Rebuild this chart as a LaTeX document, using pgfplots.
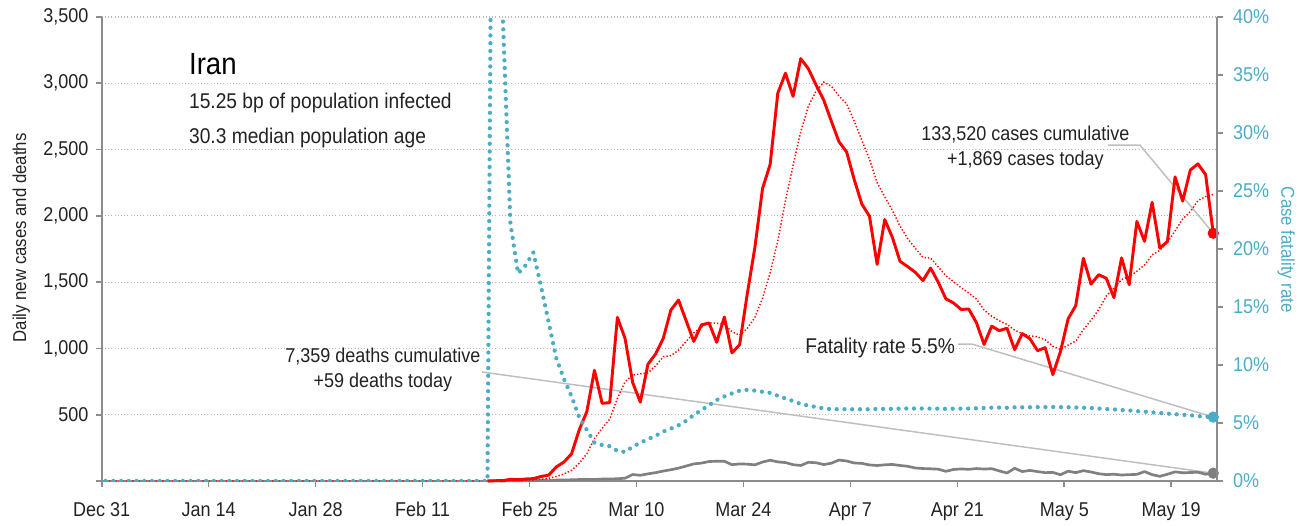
\documentclass[border=0pt]{standalone}
\usepackage{pgfplots}
\pgfplotsset{compat=1.18}
\usepackage{pgfplotstable}
\usepackage{fontspec}
\setmainfont{Liberation Sans}[FakeStretch=0.9]
\definecolor{cred}{RGB}{255,0,0}
\definecolor{cblue}{RGB}{75,172,198}
\definecolor{cgrey}{RGB}{128,128,128}
\definecolor{caxis}{RGB}{140,140,140}
\definecolor{cgrid}{RGB}{185,185,185}
\definecolor{cconn}{RGB}{190,190,190}
\definecolor{ctext}{RGB}{34,34,34}
\pgfplotsset{/pgf/number format/assume math mode=true}

% daily new cases (day index: Dec 31 = 0)
\pgfplotstableread{
d c
50 0
51 2
52 3
53 13
54 10
55 15
56 18
57 34
58 44
59 106
60 143
61 205
62 385
63 523
64 835
65 586
66 591
67 1234
68 1076
69 743
70 595
71 881
72 958
73 1075
74 1289
75 1365
76 1209
77 1053
78 1178
79 1192
80 1046
81 1237
82 966
83 1028
84 1411
85 1762
86 2206
87 2389
88 2926
89 3076
90 2901
91 3186
92 3110
93 2988
94 2875
95 2715
96 2560
97 2483
98 2274
99 2089
100 1997
101 1634
102 1972
103 1837
104 1657
105 1617
106 1574
107 1512
108 1606
109 1499
110 1374
111 1343
112 1294
113 1297
114 1194
115 1030
116 1168
117 1134
118 1153
119 991
120 1112
121 1073
122 983
123 1006
124 802
125 976
126 1223
127 1323
128 1680
129 1485
130 1556
131 1529
132 1383
133 1683
134 1481
135 1958
136 1808
137 2102
138 1757
139 1806
140 2294
141 2111
142 2346
143 2392
144 2311
145 1869
}\cases

% 7-day average of cases
\pgfplotstableread{
d m
0 0
50 0
51 0.3
52 0.7
53 2.6
54 4.0
55 6.1
56 8.7
57 13.6
58 19.6
59 34.3
60 52.9
61 80.7
62 133.6
63 205.7
64 320.1
65 397.6
66 466.9
67 622.7
68 747.1
69 798.3
70 808.6
71 815.1
72 868.3
73 937.4
74 945.3
75 986.6
76 1053.1
77 1118.6
78 1161.0
79 1194.4
80 1190.3
81 1182.9
82 1125.9
83 1100.0
84 1151.1
85 1234.6
86 1379.4
87 1571.3
88 1812.6
89 2114.0
90 2381.6
91 2635.1
92 2827.7
93 2939.4
94 3008.9
95 2978.7
96 2905.0
97 2845.3
98 2715.0
99 2569.1
100 2427.6
101 2250.3
102 2144.1
103 2040.9
104 1922.9
105 1829.0
106 1755.4
107 1686.1
108 1682.1
109 1614.6
110 1548.4
111 1503.6
112 1457.4
113 1417.9
114 1372.4
115 1290.1
116 1242.9
117 1208.6
118 1181.4
119 1138.1
120 1111.7
121 1094.4
122 1087.7
123 1064.6
124 1017.1
125 991.9
126 1025.0
127 1055.1
128 1141.9
129 1213.6
130 1292.1
131 1396.0
132 1454.1
133 1519.9
134 1542.4
135 1582.1
136 1628.3
137 1706.3
138 1738.9
139 1799.3
140 1886.6
141 1976.6
142 2032.0
143 2115.4
144 2145.3
145 2161.3
}\avg

% daily deaths
\pgfplotstableread{
d v
50 0
51 2
52 0
53 2
54 1
55 3
56 4
57 4
58 3
59 7
60 8
61 9
62 11
63 12
64 11
65 15
66 15
67 17
68 21
69 49
70 43
71 54
72 63
73 75
74 85
75 97
76 113
77 129
78 135
79 147
80 149
81 149
82 123
83 129
84 127
85 122
86 143
87 157
88 144
89 139
90 123
91 117
92 141
93 138
94 124
95 134
96 158
97 151
98 136
99 133
100 121
101 117
102 122
103 125
104 117
105 111
106 98
107 94
108 92
109 89
110 73
111 87
112 91
113 88
114 94
115 90
116 93
117 76
118 60
119 96
120 71
121 80
122 71
123 63
124 65
125 47
126 74
127 63
128 78
129 68
130 55
131 48
132 51
133 45
134 48
135 50
136 71
137 48
138 35
139 51
140 69
141 62
142 64
143 66
144 51
145 59
}\deaths

% case fatality rate (%)
\pgfplotstableread{
d r
0 0
50 0
51 100
52 40.0
53 22.2
54 17.9
55 18.6
56 19.7
57 16.8
58 13.7
59 10.6
60 8.8
61 7.3
62 5.5
63 4.4
64 3.3
65 3.1
66 3.0
67 2.6
68 2.5
69 2.95
70 3.3
71 3.6
72 3.9
73 4.26
74 4.52
75 4.8
76 5.19
77 5.69
78 6.11
79 6.54
80 6.98
81 7.29
82 7.55
83 7.79
84 7.86
85 7.79
86 7.69
87 7.60
88 7.35
89 7.11
90 6.89
91 6.64
92 6.50
93 6.38
94 6.26
95 6.19
96 6.19
97 6.19
98 6.18
99 6.19
100 6.18
101 6.21
102 6.21
103 6.22
104 6.24
105 6.25
106 6.25
107 6.25
108 6.24
109 6.24
110 6.22
111 6.23
112 6.24
113 6.25
114 6.27
115 6.30
116 6.32
117 6.33
118 6.31
119 6.35
120 6.35
121 6.36
122 6.37
123 6.37
124 6.38
125 6.37
126 6.36
127 6.34
128 6.31
129 6.29
130 6.25
131 6.20
132 6.17
133 6.12
134 6.08
135 6.02
136 5.98
137 5.92
138 5.86
139 5.81
140 5.76
141 5.71
142 5.66
143 5.60
144 5.54
145 5.51
}\cfr

\begin{document}
\begin{tikzpicture}
\useasboundingbox (-76.3pt,-33pt) rectangle (906.2pt,360.75pt);
\begin{axis}[
  at={(0,0)}, anchor=south west, scale only axis,
  width=836.5pt, height=348pt,
  xmin=-0.5, xmax=145.5, ymin=0, ymax=3500,
  clip=false,
  axis x line*=bottom, axis y line*=left,
  axis line style={caxis, line width=1.5pt},
  tick align=outside, major tick length=4.5pt,
  tick style={caxis, line width=1.2pt},
  xtick={-0.5,13.5,27.5,41.5,55.5,69.5,83.5,97.5,111.5,125.5,139.5},
  xticklabels={Dec 31,Jan 14,Jan 28,Feb 11,Feb 25,Mar 10,Mar 24,Apr 7,Apr 21,May 5,May 19},
  ytick={0,500,1000,1500,2000,2500,3000,3500},
  yticklabels={{},500,{1,000},{1,500},{2,000},{2,500},{3,000},{3,500}},
  ymajorgrids,
  grid style={cgrid, line width=0.8pt, dash pattern=on 0.8pt off 1.6pt},
  tick label style={font=\fontsize{15}{18}\selectfont, text=ctext},
  xticklabel style={yshift=-8pt},
  yticklabel style={xshift=-2pt},
  ylabel={Daily new cases and deaths},
  ylabel style={at={(axis description cs:-0.072,0.524)}, anchor=center,
    font=\fontsize{14}{17}\selectfont, text=ctext},
]
% connectors
\draw[cconn, line width=1.1pt] (axis cs:131.2,2534) -- (axis cs:135.4,2534) -- (axis cs:145,1869);
\draw[cconn, line width=1.1pt] (axis cs:111.6,1033) -- (axis cs:113.4,1033) -- (axis cs:145,482);
\draw[cconn, line width=1.1pt] (axis cs:49.3,822) -- (axis cs:145,59);
% series
\addplot[cgrey, line width=2pt, line join=round] table[x=d, y=v] {\deaths};
\addplot[cred, line width=1.1pt, dash pattern=on 1pt off 1.5pt] table[x=d, y=m] {\avg};
\addplot[cred, line width=2.2pt, line join=round] table[x=d, y=c] {\cases};
\addplot[only marks, mark=*, mark size=4pt, cred] coordinates {(145,1869)};
\addplot[only marks, mark=*, mark size=4pt, cgrey] coordinates {(145,59)};
% texts
\node[anchor=west, inner sep=0pt, font=\fontsize{23}{27}\selectfont, text=black] at (axis cs:10.9,3145) {Iran};
\node[anchor=west, inner sep=0pt, font=\fontsize{16}{19}\selectfont, text=ctext] at (axis cs:10.9,2851) {15.25 bp of population infected};
\node[anchor=west, inner sep=0pt, font=\fontsize{16}{19}\selectfont, text=ctext] at (axis cs:10.9,2587) {30.3 median population age};
\node[align=center, inner sep=0pt, font=\fontsize{15}{18.75}\selectfont, text=ctext] at (axis cs:120.4,2512) {133,520 cases cumulative\\+1,869 cases today};
\node[inner sep=0pt, font=\fontsize{16}{19}\selectfont, text=ctext] at (axis cs:101.4,1003) {Fatality rate 5.5\%};
\node[align=center, inner sep=0pt, font=\fontsize{15}{18.75}\selectfont, text=ctext] at (axis cs:36.3,837) {7,359 deaths cumulative\\+59 deaths today};
\end{axis}
\begin{axis}[
  at={(0,0)}, anchor=south west, scale only axis,
  width=836.5pt, height=348pt,
  xmin=-0.5, xmax=145.5, ymin=0, ymax=40,
  axis x line=none, axis y line*=right,
  axis line style={caxis, line width=1.5pt},
  tick align=outside, major tick length=4.5pt,
  tick style={caxis, line width=1.2pt},
  ytick={0,5,10,15,20,25,30,35,40},
  yticklabel={\pgfmathprintnumber{\tick}\%},
  tick label style={font=\fontsize{15}{18}\selectfont, text=cblue},
  yticklabel style={xshift=4pt},
  ylabel={Case fatality rate},
  ylabel style={at={(axis description cs:1.062,0.498)}, anchor=center, rotate=180,
    font=\fontsize{14}{17}\selectfont, text=cblue},
]
\addplot[cblue, line width=3.2pt, line cap=round, dash pattern=on 0pt off 5.8pt] table[x=d, y=r] {\cfr};
\addplot[only marks, mark=*, mark size=4pt, cblue] coordinates {(145,5.51)};
\end{axis}
\end{tikzpicture}
\end{document}
